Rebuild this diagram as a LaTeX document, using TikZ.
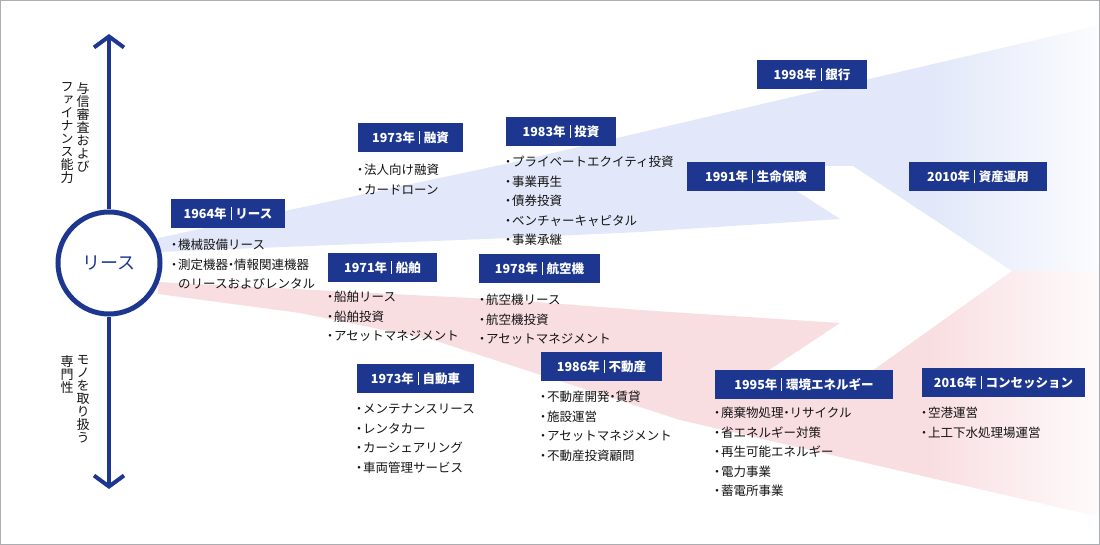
\documentclass[tikz,border=0pt]{standalone}
\usepackage{fontspec}
\setmainfont{Noto Sans CJK JP}
\newfontfamily\jpv{Noto Sans CJK JP}[RawFeature=+vert]
\usetikzlibrary{arrows.meta}
\definecolor{navy}{RGB}{29,55,145}
\definecolor{bandblue}{RGB}{226,232,249}
\definecolor{bandred}{RGB}{249,222,225}
\colorlet{bandbluefade}{bandblue!12!white}
\colorlet{bandredfade}{bandred!12!white}
\definecolor{bordergray}{RGB}{170,174,179}
\definecolor{txt}{RGB}{20,20,20}
\pgfdeclarehorizontalshading{bluefade}{100bp}{color(0bp)=(bandblue); color(66bp)=(bandblue); color(75bp)=(bandbluefade); color(100bp)=(bandbluefade)}
\pgfdeclarehorizontalshading{redfade}{100bp}{color(0bp)=(bandred); color(66bp)=(bandred); color(75bp)=(bandredfade); color(100bp)=(bandredfade)}
\newcommand\yrsep{\hspace{4pt}{\color{white}\rule[-1.5pt]{0.7pt}{13pt}}\hspace{4pt}}
\newcommand\bul{\makebox[8pt][c]{・}}
\newcommand\nd{\makebox[6pt][c]{・}}
\begin{document}
\begin{tikzpicture}[x=1pt,y=-1pt,
  hdr/.style={fill=navy, text=white, font=\fontsize{12.5}{14}\selectfont\bfseries, minimum height=29pt, inner sep=0pt},
  lst/.style={anchor=north west, align=left, inner sep=0pt, text=txt, font=\fontsize{12.5}{19.5}\selectfont},
  vtxt/.style={anchor=north, align=center, inner sep=0pt, text=txt, font=\jpv\fontsize{13}{13}\selectfont},
  axisline/.style={draw=navy, line width=4pt}]
\useasboundingbox (0,0) rectangle (1100,545);
% bands
\shade[shading=bluefade] (158,238) -- (510,163) -- (1100,25) -- (1100,271) -- (1012,271) -- (853,166) -- (758,166) -- (840,219) -- (640,232) -- (510,238) -- (158,252) -- cycle;
\shade[shading=redfade] (158,282) -- (510,300) -- (640,310) -- (840,323) -- (760,376) -- (865,376) -- (1012,271) -- (1100,271) -- (1100,517) -- (680,420) -- (433,340) -- (300,313) -- (158,294) -- cycle;
% axis and circle
\node[circle, draw=navy, line width=5pt, minimum size=102pt, fill=white, text=navy, font=\fontsize{18}{20}\selectfont] (lease) at (109,263) {リース};
\coordinate (axtop) at (109,34);
\coordinate (axbot) at (109,489);
\draw[axisline, -{Straight Barb[length=11pt,width=30pt]}] (lease.north) -- (axtop);
\draw[axisline, -{Straight Barb[length=11pt,width=30pt]}] (lease.south) -- (axbot);
% vertical labels
\node[vtxt] (v1) at (83,82) {与\\信\\審\\査\\お\\よ\\び};
\node[vtxt] (v2) at (67,82) {フ\\ァ\\イ\\ナ\\ン\\ス\\能\\力};
\node[vtxt] (v3) at (83,355) {モ\\ノ\\を\\取\\り\\扱\\う};
\node[vtxt] (v4) at (67,355) {専\\門\\性};
% headers
\node[hdr, minimum width=114pt] (h1964) at (228,214) {1964年\yrsep リース};
\node[hdr, minimum width=105pt] (h1973a) at (410.5,138) {1973年\yrsep 融資};
\node[hdr, minimum width=109pt] (h1971) at (382.5,267.5) {1971年\yrsep 船舶};
\node[hdr, minimum width=110pt] (h1983) at (561,131.5) {1983年\yrsep 投資};
\node[hdr, minimum width=121pt] (h1978) at (539.5,269) {1978年\yrsep 航空機};
\node[hdr, minimum width=138pt] (h1991) at (756,177) {1991年\yrsep 生命保険};
\node[hdr, minimum width=110pt] (h1998) at (812,75) {1998年\yrsep 銀行};
\node[hdr, minimum width=138pt] (h2010) at (978,177) {2010年\yrsep 資産運用};
\node[hdr, minimum width=117pt] (h1973b) at (415.5,378) {1973年\yrsep 自動車};
\node[hdr, minimum width=121pt] (h1986) at (601.5,366.5) {1986年\yrsep 不動産};
\node[hdr, minimum width=178pt] (h1995) at (804,384) {1995年\yrsep 環境エネルギー};
\node[hdr, minimum width=163pt] (h2016) at (1003.5,382.5) {2016年\yrsep コンセッション};
% lists
\node[lst] (l1964) at (170,239) {\bul 機械設備リース\\\bul 測定機器\nd 情報関連機器\\\hspace{8pt}のリースおよびレンタル};
\node[lst] (l1973a) at (356,164) {\bul 法人向け融資\\\bul カードローン};
\node[lst] (l1971) at (326,291) {\bul 船舶リース\\\bul 船舶投資\\\bul アセットマネジメント};
\node[lst] (l1983) at (504,156) {\bul プライベートエクイティ投資\\\bul 事業再生\\\bul 債券投資\\\bul ベンチャーキャピタル\\\bul 事業承継};
\node[lst] (l1978) at (478,294) {\bul 航空機リース\\\bul 航空機投資\\\bul アセットマネジメント};
\node[lst] (l1973b) at (355,404) {\bul メンテナンスリース\\\bul レンタカー\\\bul カーシェアリング\\\bul 車両管理サービス};
\node[lst] (l1986) at (539,391) {\bul 不動産開発\nd 賃貸\\\bul 施設運営\\\bul アセットマネジメント\\\bul 不動産投資顧問};
\node[lst] (l1995) at (713,407) {\bul 廃棄物処理\nd リサイクル\\\bul 省エネルギー対策\\\bul 再生可能エネルギー\\\bul 電力事業\\\bul 蓄電所事業};
\node[lst] (l2016) at (920,407) {\bul 空港運営\\\bul 上工下水処理場運営};
% frame
\draw[bordergray, line width=1pt] (0.5,0.5) rectangle (1099.5,544.5);
\end{tikzpicture}
\end{document}
